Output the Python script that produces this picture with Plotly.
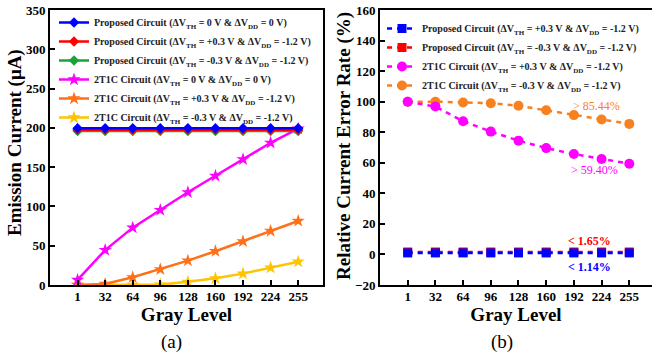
import plotly.graph_objects as go

# ---------------- data ----------------
gray_levels = ["1", "32", "64", "96", "128", "160", "192", "224", "255"]
idx = list(range(len(gray_levels)))

# (a) Emission current (uA)
prop_0 = [199.5, 199.5, 199.5, 199.5, 199.5, 199.5, 199.5, 199.5, 199.5]
prop_p03 = [197.5, 197.5, 197.5, 197.5, 197.5, 197.5, 197.5, 197.5, 197.5]
prop_m03 = [196.0, 196.0, 196.0, 196.0, 196.0, 196.0, 196.0, 196.0, 196.0]
t2c_0 = [6.4, 44.5, 73.0, 95.4, 118.0, 139.0, 160.0, 181.0, 199.0]
t2c_p03 = [0.0, 1.3, 9.8, 20.0, 31.0, 43.0, 55.6, 68.7, 81.5]
t2c_m03 = [0.0, 0.0, 0.0, 0.5, 4.0, 8.5, 14.5, 22.0, 29.7]

# (b) Relative current error rate (%)
err_prop_p03 = [1.0, 1.0, 1.0, 1.0, 1.0, 1.0, 1.0, 1.0, 1.0]
err_prop_m03 = [1.6, 1.6, 1.6, 1.6, 1.6, 1.6, 1.6, 1.6, 1.6]
err_t2c_p03 = [100.0, 96.8, 87.2, 80.4, 74.5, 69.6, 65.7, 62.5, 59.4]
err_t2c_m03 = [100.0, 100.0, 99.5, 99.0, 97.3, 94.4, 91.2, 88.3, 85.44]

# ---------------- style ----------------
FONT = "Liberation Serif"
BLUE, RED, GREEN = "#0000FF", "#FF0000", "#19A33A"
MAGENTA, ORANGE, YELLOW = "#FF00FF", "#FF7018", "#FFC400"
ORANGE_B = "#F7801F"

def lab(kind, vth, vdd):
    return f"{kind} Circuit (ΔV<sub>TH</sub> = {vth} V &amp; ΔV<sub>DD</sub> = {vdd} V)"

fig = go.Figure()

# ---- panel (a) ----  (draw order chosen so blue sits on top; legendrank keeps legend order)
a_traces = [
    (t2c_m03, YELLOW, "star", 10, lab("2T1C", "-0.3", "-1.2"), 6),
    (t2c_p03, ORANGE, "star", 10, lab("2T1C", "+0.3", "-1.2"), 5),
    (t2c_0, MAGENTA, "star", 10, lab("2T1C", "0", "0"), 4),
    (prop_m03, GREEN, "diamond", 8, lab("Proposed", "-0.3", "-1.2"), 3),
    (prop_p03, RED, "diamond", 8, lab("Proposed", "+0.3", "-1.2"), 2),
    (prop_0, BLUE, "diamond", 8, lab("Proposed", "0", "0"), 1),
]
for ys, col, sym, sz, name, rank in a_traces:
    fig.add_trace(go.Scatter(
        x=idx, y=ys, mode="lines+markers", name=name,
        line=dict(color=col, width=2.5),
        marker=dict(symbol=sym, size=sz, color=col),
        xaxis="x", yaxis="y", legend="legend", legendrank=rank,
    ))

# ---- panel (b) ----
b_traces = [
    (err_t2c_m03, ORANGE_B, "circle", 10, lab("2T1C", "-0.3", "-1.2"), 4),
    (err_t2c_p03, MAGENTA, "circle", 10, lab("2T1C", "+0.3", "-1.2"), 3),
    (err_prop_m03, RED, "square", 9, lab("Proposed", "-0.3", "-1.2"), 2),
    (err_prop_p03, BLUE, "square", 9, lab("Proposed", "+0.3", "-1.2"), 1),
]
for ys, col, sym, sz, name, rank in b_traces:
    fig.add_trace(go.Scatter(
        x=idx, y=ys, mode="lines+markers", name=name,
        line=dict(color=col, width=2.5, dash="5px,5px"),
        marker=dict(symbol=sym, size=sz, color=col),
        xaxis="x2", yaxis="y2", legend="legend2", legendrank=rank,
    ))

W, H = 652, 357
def px(x):
    return x / W
def py(y):
    return 1 - y / H

tickfont = dict(family=FONT, size=13, color="black", weight="bold")
titlefont = dict(family=FONT, size=19, color="black", weight="bold")
common_x = dict(
    tickmode="array", tickvals=idx, ticktext=gray_levels,
    showline=True, linecolor="black", linewidth=2,
    ticks="inside", ticklen=5, tickwidth=2, tickcolor="black",
    showgrid=False, zeroline=False, tickfont=tickfont, automargin=False,
    ticklabelstandoff=-2,
)
common_y = dict(
    showline=True, linecolor="black", linewidth=2,
    ticks="inside", ticklen=5, tickwidth=2, tickcolor="black",
    showgrid=False, zeroline=False, tickfont=tickfont, automargin=False,
)

legend_font = dict(family=FONT, size=10, color="#222222", weight="bold")

fig.update_layout(
    width=W, height=H,
    margin=dict(l=0, r=0, t=0, b=0, autoexpand=False),
    paper_bgcolor="white", plot_bgcolor="white",
    showlegend=True,
    xaxis=dict(common_x, domain=[px(50), px(323)], range=[-1, 8.9], mirror=True,
               anchor="y", title=dict(text="Gray Level", font=titlefont, standoff=4)),
    yaxis=dict(common_y, domain=[py(285), py(10)], range=[0, 350], dtick=50, mirror=True,
               anchor="x"),
    xaxis2=dict(common_x, domain=[px(380), 1.0], range=[-1, 8.82], mirror=True,
                anchor="y2", title=dict(text="Gray Level", font=titlefont, standoff=4)),
    yaxis2=dict(common_y, domain=[py(285), py(10)], range=[-20, 160], dtick=20, mirror=False,
                anchor="x2"),
    legend=dict(x=px(54), y=py(8), xanchor="left", yanchor="top",
                bgcolor="rgba(0,0,0,0)", borderwidth=0, font=legend_font,
                tracegroupgap=0),
    legend2=dict(x=px(382), y=py(14), xanchor="left", yanchor="top",
                 bgcolor="rgba(0,0,0,0)", borderwidth=0, font=legend_font,
                 tracegroupgap=0),
)

# y-axis titles placed precisely as rotated texts
fig.add_annotation(x=px(15), y=py(143), xref="paper", yref="paper",
                   text="Emission Current (μA)", textangle=-90, showarrow=False,
                   xanchor="center", yanchor="middle", font=titlefont)
fig.add_annotation(x=px(344), y=py(146), xref="paper", yref="paper",
                   text="Relative Current Error Rate (%)", textangle=-90, showarrow=False,
                   xanchor="center", yanchor="middle", font=titlefont)

ann_font = dict(family=FONT, size=12)
fig.add_annotation(x=6.83, y=97.0, xref="x2", yref="y2", text="&gt; 85.44%", showarrow=False,
                   font=dict(ann_font, color=ORANGE_B))
fig.add_annotation(x=6.76, y=55.3, xref="x2", yref="y2", text="&gt; 59.40%", showarrow=False,
                   font=dict(ann_font, color=MAGENTA))
fig.add_annotation(x=6.58, y=9.0, xref="x2", yref="y2", text="&lt; 1.65%", showarrow=False,
                   font=dict(ann_font, color=RED, weight="bold"))
fig.add_annotation(x=6.58, y=-8.2, xref="x2", yref="y2", text="&lt; 1.14%", showarrow=False,
                   font=dict(ann_font, color=BLUE, weight="bold"))

fig.add_annotation(x=px(172), y=py(342), xref="paper", yref="paper", text="(a)", showarrow=False,
                   xanchor="center", yanchor="middle",
                   font=dict(family=FONT, size=19, color="black"))
fig.add_annotation(x=px(502), y=py(342), xref="paper", yref="paper", text="(b)", showarrow=False,
                   xanchor="center", yanchor="middle",
                   font=dict(family=FONT, size=19, color="black"))

# remove the browser's default 8px page margin so the figure fills the window exactly
fig.write_html("out.html", config={"displayModeBar": False},
               post_script="document.body.style.margin='0';")
